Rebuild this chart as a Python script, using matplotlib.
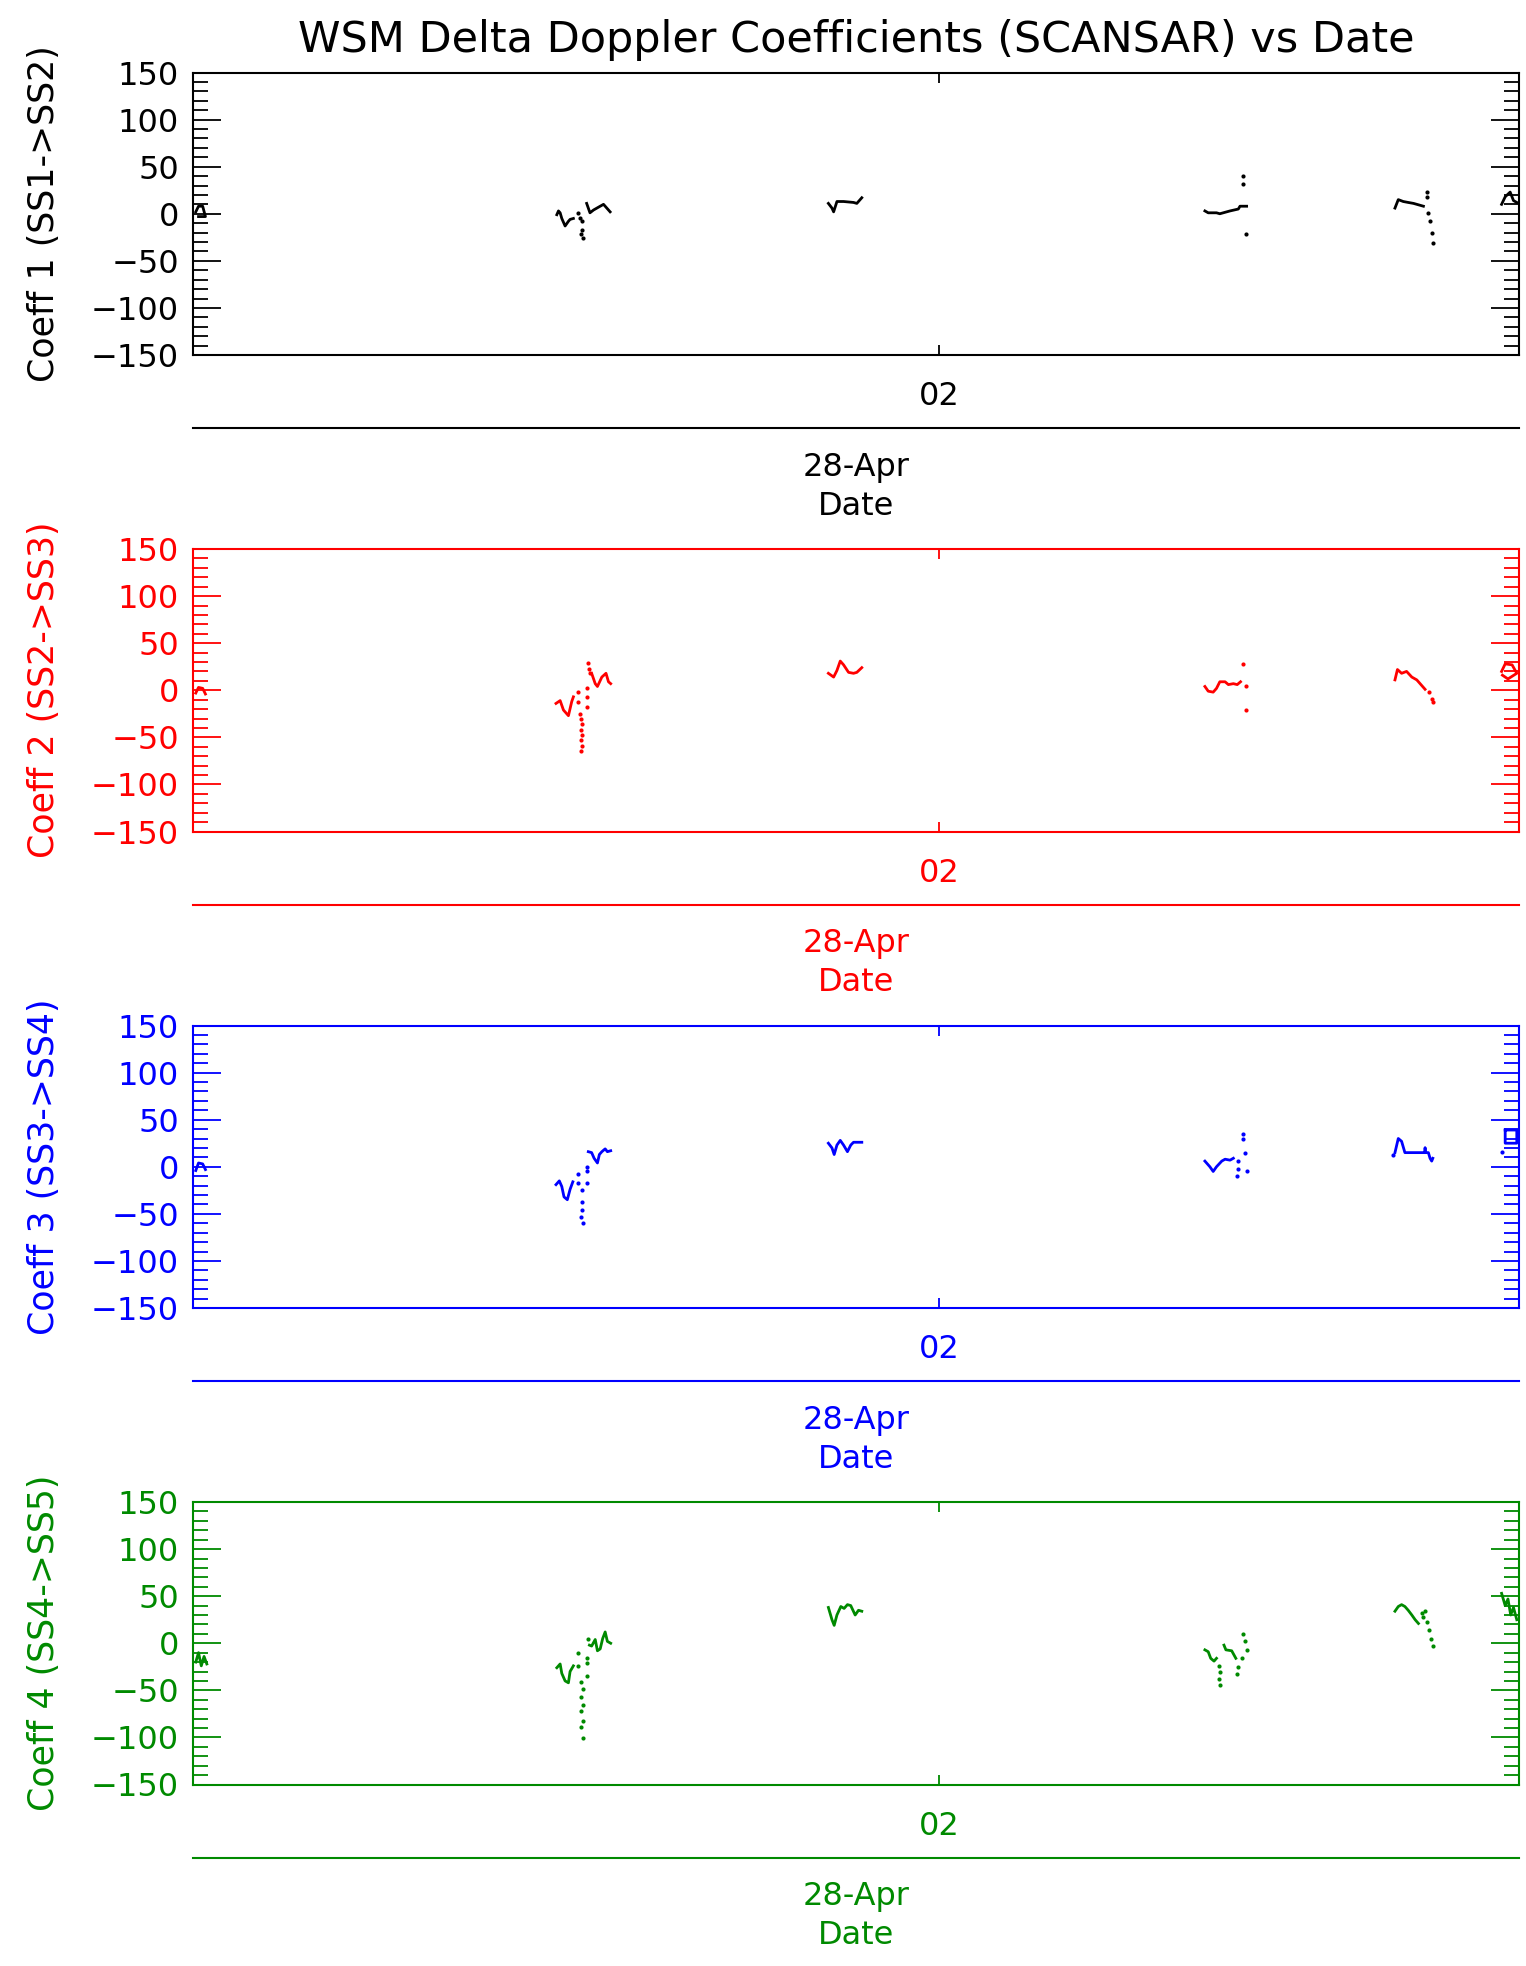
import numpy as np
import matplotlib.pyplot as plt
from matplotlib.ticker import MultipleLocator

nan = np.nan

# time axis in minutes from 28-Apr 00:00
x_range = (-150, 330)
tick_minutes = [120]
tick_labels = ["02"]
day_minutes = [90]
day_labels = ["28-Apr"]

title = "WSM Delta Doppler Coefficients (SCANSAR) vs Date"
ylabels = ["Coeff 1 (SS1->SS2)", "Coeff 2 (SS2->SS3)",
           "Coeff 3 (SS3->SS4)", "Coeff 4 (SS4->SS5)"]
colors = ["black", "#ff0000", "#0000ff", "#008a00"]

# Coeff 1: connected samples (NaN = gap) and isolated samples
c1_t = [-149, -148, -146.5, -145.5, -148, nan,
        -18.3, -17.7, -17.1, -16.5, -15.3, -14.1, -13.5, -12.3, nan,
        -7.5, -6.9, -6.3, -5.0, -3.8, -2.6, -1.4, -0.2, 1.0, nan,
        80.0, 81.3, 81.9, 83.1, 85.5, 89.1, 90.3, 92.1, nan,
        216.3, 217.5, 220.5, 221.7, 225.4, 228.4, 229.0, 231.4, nan,
        285.1, 286.3, 288.1, 289.9, 291.8, 293.0, 295.4, nan,
        323.7, 325.0, 326.8, 328.0, 329.2]
c1_v = [2, 8, 8, -3, -3, nan,
        -1, 3, 1, -5, -13, -8, -6, -5, nan,
        11, 6, 1, 4, 6, 8, 10, 6, 2, nan,
        11, 6, 2, 13, 13, 12, 11, 17, nan,
        3, 1, 1, 0, 3, 5, 8, 8, nan,
        6, 15, 13, 12, 11, 10, 8, nan,
        10, 18, 23, 14, 12]
c1_dot_t = [-10.5, -9.9, -9.3, -9.3, -8.7, -9.5,
            230.0, 230.0, 231.0,
            296.6, 296.6, 297.2, 297.8, 298.4, 298.8]
c1_dot_v = [1, -5, -8, -17, -26, -21,
            40, 32, -22,
            23, 18, 1, -8, -20, -31]

# Coeff 2
c2_t = [-149, -148, -146.5, -145.5, nan,
        -18.6, -17.1, -15.9, -14.1, -12.9, -12.3, nan,
        -5.7, -4.4, -3.6, -2.0, -0.5, 0.4, 1.2, nan,
        80.0, 81.9, 83.1, 84.3, 85.5, 87.3, 89.1, 90.3, 92.1, nan,
        216.3, 217.5, 219.3, 220.5, 221.7, 223.6, 224.8, 226.6, 228.0, 229.2, nan,
        285.1, 286.0, 287.5, 289.3, 291.2, 293.0, 294.8, 296.0, nan,
        323.7, 325.0, 327.5, 329.2, 326.0, 324.0]
c2_v = [-3, 3, 2, -4, nan,
        -14, -11, -21, -27, -12, -7, nan,
        18, 7, 4, 14, 18, 9, 7, nan,
        18, 14, 21, 31, 27, 19, 18, 19, 24, nan,
        4, -1, -2, 2, 9, 9, 6, 7, 6, 9, nan,
        11, 22, 18, 20, 14, 11, 5, 1, nan,
        20, 28, 27, 18, 12, 16]
c2_dot_t = [-10.5, -10.5, -9.9, -9.5, -9.3, -9.5, -9.3, -9.5, -9.3, -9.5,
            -7.5, -7.5, -7.5, -6.9, -6.5, -6.3,
            230.0, 231.0, 231.0,
            297.5, 298.4, 298.8]
c2_dot_v = [-2, -12, -25, -30, -36, -42, -48, -53, -59, -64,
            2, -7, -18, 29, 23, 18,
            28, 4, -21,
            -2, -9, -12]

# Coeff 3
c3_t = [-149, -148, -146.5, -145.5, nan,
        -18.6, -17.4, -16.5, -15.7, -14.5, -13.5, -12.5, nan,
        -6.9, -5.7, -4.8, -3.6, -2.9, -2.0, -0.8, 0.0, 1.2, nan,
        80.0, 81.3, 82.1, 83.1, 84.3, 85.5, 86.9, 88.1, 89.1, 92.1, nan,
        216.3, 218.1, 219.3, 220.5, 222.4, 223.6, 225.4, 226.6, nan,
        285.1, 286.3, 287.5, 288.7, 294.8, 296.0, 296.0, 296.0, 297.2,
        297.8, 298.4, 298.8, nan,
        325.0, 329.2, 329.2, 325.0, 325.0]
c3_v = [-4, 4, 3, -3, nan,
        -19, -15, -21, -32, -35, -24, -16, nan,
        16, 15, 9, 4, 13, 16, 19, 16, 17, nan,
        25, 20, 13, 23, 28, 23, 16, 23, 26, 26, nan,
        6, 0, -5, 0, 6, 8, 7, 9, nan,
        15, 30, 27, 15, 15, 15, 20, 15, 15,
        9, 6, 9, nan,
        39, 39, 25, 25, 39]
c3_dot_t = [-10.5, -10.5, -9.3, -9.3, -9.3, -9.5, -8.7, -7.5, -7.5, -7.5,
            228.4, 228.4, 228.0, 230.2, 230.2, 230.8, 231.4,
            284.5, 323.7]
c3_dot_v = [-8, -17, -25, -37, -46, -53, -60, 0, -5, -17,
            6, -2, -10, 35, 29, 15, -5,
            13, 16]

# Coeff 4
c4_t = [-149, -148, -147, -146, -145, nan,
        -18.3, -17.1, -16.5, -15.3, -14.1, -13.5, -12.3, nan,
        -6.5, -5.7, -4.4, -3.6, -2.6, -1.7, -0.8, 0.0, 1.2, nan,
        80.0, 81.3, 82.1, 83.1, 84.5, 85.7, 86.9, 88.1, 89.7, 90.9, 92.1, nan,
        216.3, 217.5, 218.4, 219.6, 220.5, nan,
        223.2, 223.9, 226.0, 227.5, nan,
        285.1, 286.3, 287.5, 288.7, 289.9, 291.2, 292.4, 293.6, nan,
        323.7, 325.0, 326.0, 327.0, 328.0, 329.2]
c4_v = [-20, -10, -24, -14, -22, nan,
        -26, -22, -32, -40, -42, -30, -24, nan,
        -2, -3, 4, -8, -6, 5, 12, 2, 0, nan,
        38, 25, 19, 30, 39, 37, 41, 40, 30, 35, 34, nan,
        -7, -9, -16, -19, -16, nan,
        -2, -7, -8, -16, nan,
        34, 39, 41, 39, 35, 30, 25, 21, nan,
        53, 40, 47, 30, 38, 25]
c4_dot_t = [-10.5, -10.5, -9.5, -8.7, -9.5, -8.7, -9.5, -8.7, -9.5, -8.7,
            -7.5, -7.5, -7.5, -6.9,
            221.5, 221.7, 221.5, 221.7, 228.4, 228.0, 229.6, 230.2, 230.8, 231.4,
            294.8, 295.4, 296.0, 296.6, 297.5, 298.0, 298.8]
c4_dot_v = [-10, -24, -41, -49, -57, -66, -72, -83, -89, -101,
            -16, -21, -35, 4,
            -24, -31, -38, -44, -25, -33, -16, 10, 2, -7,
            32, 28, 34, 23, 14, 5, -3]

lines_t = [c1_t, c2_t, c3_t, c4_t]
lines_v = [c1_v, c2_v, c3_v, c4_v]
dots_t = [c1_dot_t, c2_dot_t, c3_dot_t, c4_dot_t]
dots_v = [c1_dot_v, c2_dot_v, c3_dot_v, c4_dot_v]

W, H = 1526, 1966
fig = plt.figure(figsize=(W / 100, H / 100), dpi=100)
plt.rcParams['font.family'] = ['DejaVu Sans']
fs = 23

ax_left, ax_right = 193, 1519
ax_h = 282.5
step = 476.5

for k in range(4):
    col = colors[k]
    top = 72.5 + step * k
    ax = fig.add_axes([ax_left / W, 1 - (top + ax_h) / H,
                       (ax_right - ax_left) / W, ax_h / H])
    ax.plot(lines_t[k], lines_v[k], color=col, lw=2.0)
    ax.plot(dots_t[k], dots_v[k], 'o', color=col, ms=3.0, mew=0)

    ax.set_xlim(*x_range)
    ax.set_ylim(-150, 150)
    ax.yaxis.set_major_locator(MultipleLocator(50))
    ax.yaxis.set_minor_locator(MultipleLocator(10))
    ax.set_xticks(tick_minutes, labels=tick_labels)

    for s in ax.spines.values():
        s.set_color(col)
        s.set_linewidth(1.5)
    ax.tick_params(axis='y', which='major', direction='in', length=20, width=1.3,
                   left=True, right=True, colors=col, labelsize=fs, pad=10)
    ax.tick_params(axis='y', which='minor', direction='in', length=11, width=1.3,
                   left=True, right=True, colors=col)
    ax.tick_params(axis='x', which='major', direction='in', length=7, width=1.3,
                   top=True, bottom=True, colors=col, labelsize=fs, pad=19)

    ax.set_ylabel(ylabels[k], color=col, fontsize=25, va='center')
    ax.yaxis.set_label_coords((44 - ax_left) / (ax_right - ax_left), 0.5)

    # date axis underneath
    sec = ax.secondary_xaxis(-73 / ax_h)
    sec.spines['bottom'].set_color(col)
    sec.spines['bottom'].set_linewidth(1.5)
    sec.set_xticks(day_minutes, labels=day_labels)
    sec.tick_params(axis='x', length=0, colors=col, labelsize=fs, pad=17)
    sec.set_xlabel("Date", color=col, fontsize=fs, labelpad=6)

fig.text(856 / W, 1 - 40 / H, title, ha='center', va='center', fontsize=31)

fig.savefig("out.png", dpi=100, facecolor='white')
